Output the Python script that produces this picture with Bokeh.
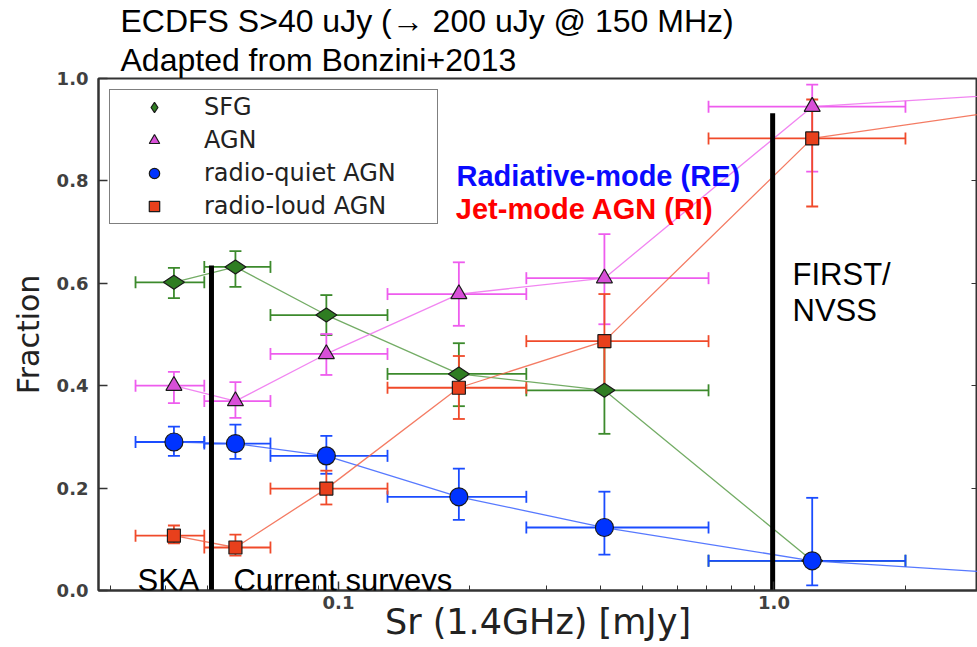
import math
from bokeh.plotting import figure
from bokeh.models import (ColumnDataSource, Whisker, TeeHead, Label, Legend, LegendItem,
                          LinearAxis, FixedTicker, PrintfTickFormatter,
                          CustomJSTickFormatter, Title)
from bokeh.embed import file_html
from bokeh.resources import INLINE

# ---------------- data ----------------
flux_mid = [0.0419, 0.0580, 0.0938, 0.189, 0.408, 1.224]
flux_lo = [0.0342, 0.0492, 0.0698, 0.1296, 0.270, 0.7075]
flux_hi = [0.0492, 0.0698, 0.1296, 0.270, 0.7075, 2.004]
flux_tail = 3.5

sfg = [0.602, 0.632, 0.538, 0.423, 0.391, 0.058]
sfg_lo = [0.571, 0.593, 0.499, 0.360, 0.306, 0.050]
sfg_hi = [0.630, 0.663, 0.577, 0.483, 0.475, 0.066]

agn = [0.400, 0.370, 0.462, 0.579, 0.610, 0.945]
agn_lo = [0.366, 0.337, 0.421, 0.517, 0.520, 0.818]
agn_hi = [0.427, 0.407, 0.501, 0.641, 0.696, 0.988]
agn_tail = 0.969

rq = [0.290, 0.287, 0.263, 0.183, 0.123, 0.058]
rq_lo = [0.263, 0.257, 0.228, 0.138, 0.070, 0.010]
rq_hi = [0.320, 0.324, 0.302, 0.238, 0.193, 0.181]
rq_tail = 0.033

rl = [0.107, 0.084, 0.199, 0.396, 0.487, 0.883]
rl_lo = [0.092, 0.068, 0.168, 0.335, 0.396, 0.750]
rl_hi = [0.127, 0.109, 0.234, 0.458, 0.579, 0.959]
rl_tail = 0.939

series_names = ["SFG", "AGN", "radio-quiet AGN", "radio-loud AGN"]

divider_x = [0.0511, 0.993]
divider_top = [0.635, 0.932]

y_ticks = [0.0, 0.2, 0.4, 0.6, 0.8, 1.0]
x_ticks = [0.1, 1.0]
x_minor = [0.03, 0.04, 0.05, 0.06, 0.07, 0.08, 0.09,
           0.2, 0.3, 0.4, 0.5, 0.6, 0.7, 0.8, 0.9, 2.0, 3.0]

title_lines = ["ECDFS S>40 uJy (\u2192 200 uJy @ 150 MHz)", "Adapted from Bonzini+2013"]

# ---------------- figure ----------------
p = figure(width=977, height=647, x_axis_type="log",
           x_range=(0.02812, 2.933), y_range=(0.0, 1.0),
           output_backend="svg", toolbar_location=None,
           min_border_left=98, min_border_right=0,
           min_border_top=77, min_border_bottom=57)
p.xgrid.visible = False
p.ygrid.visible = False
p.background_fill_color = "white"
p.border_fill_color = "white"

tick_font = "DejaVu Sans"
arial = "Liberation Sans"
tick_col = "#404040"
spine_col = "#333333"

p.outline_line_color = spine_col
p.outline_line_width = 2
p.outline_line_alpha = 1.0

xa = p.xaxis[0]
xa.ticker = FixedTicker(ticks=x_ticks, minor_ticks=x_minor)
xa.formatter = PrintfTickFormatter(format="%.1f")
xa.major_tick_in = 9
xa.major_tick_out = 0
xa.minor_tick_in = 5
xa.minor_tick_out = 0
xa.axis_line_width = 2
xa.axis_line_color = spine_col
xa.major_tick_line_color = spine_col
xa.minor_tick_line_color = spine_col
xa.major_tick_line_width = 1.5
xa.major_label_text_font = tick_font
xa.major_label_text_font_size = "18px"
xa.major_label_text_font_style = "bold"
xa.major_label_text_color = tick_col
xa.major_label_standoff = 5
xa.axis_label = "Sr (1.4GHz) [mJy]"
xa.axis_label_text_font = tick_font
xa.axis_label_text_font_size = "35px"
xa.axis_label_text_font_style = "normal"
xa.axis_label_text_color = "#222222"
xa.axis_label_standoff = -10

ya = p.yaxis[0]
ya.ticker = FixedTicker(ticks=y_ticks)
ya.formatter = PrintfTickFormatter(format="%.1f")
ya.major_tick_in = 9
ya.major_tick_out = 0
ya.minor_tick_in = 0
ya.minor_tick_out = 0
ya.axis_line_width = 2
ya.axis_line_color = spine_col
ya.major_tick_line_color = spine_col
ya.major_tick_line_width = 1.5
ya.major_label_text_font = tick_font
ya.major_label_text_font_size = "18px"
ya.major_label_text_font_style = "bold"
ya.major_label_text_color = tick_col
ya.major_label_standoff = 10
ya.axis_label = "Fraction"
ya.axis_label_text_font = tick_font
ya.axis_label_text_font_size = "30px"
ya.axis_label_text_font_style = "normal"
ya.axis_label_text_color = "#222222"
ya.axis_label_standoff = 8

right = LinearAxis(ticker=FixedTicker(ticks=y_ticks),
                   formatter=CustomJSTickFormatter(code="return '';"),
                   major_label_text_font_size="1px",
                   major_tick_in=6, major_tick_out=0, minor_tick_in=0, minor_tick_out=0,
                   major_label_standoff=0,
                   axis_line_color=None, major_tick_line_color=spine_col)
p.add_layout(right, "right")

for line, so in zip(reversed(title_lines), [2, 0]):
    p.add_layout(Title(text=line, align="left", offset=22, standoff=so,
                       text_font=arial, text_font_size="32px", text_font_style="normal",
                       text_color="black"), "above")

# ---------------- series ----------------
styles = [
    # values, lo, hi, tail, err colour, line colour, marker, size, fill, angle
    (sfg, sfg_lo, sfg_hi, None, "#3c8a2c", "#5a9e4a", "diamond", 21, "#2f7d22", math.pi / 2),
    (agn, agn_lo, agn_hi, agn_tail, "#ee5cee", "#ee70ee", "triangle", 16, "#d84fd8", 0.0),
    (rq, rq_lo, rq_hi, rq_tail, "#1a4cff", "#3a62ff", "circle", 18, "#0033ff", 0.0),
    (rl, rl_lo, rl_hi, rl_tail, "#f04a2a", "#f26448", "square", 13, "#e8401c", 0.0),
]

sources = []
for vals, lo, hi, tail, ecol, lcol, mk, sz, fill, ang in styles:
    src = ColumnDataSource(dict(x=flux_mid, y=vals, lo=lo, hi=hi, xlo=flux_lo, xhi=flux_hi))
    sources.append(src)
    p.add_layout(Whisker(source=src, base="x", lower="lo", upper="hi", dimension="height",
                         line_color=ecol, line_width=1.8,
                         upper_head=TeeHead(size=12, line_color=ecol, line_width=1.8),
                         lower_head=TeeHead(size=12, line_color=ecol, line_width=1.8)))
    p.add_layout(Whisker(source=src, base="y", lower="xlo", upper="xhi", dimension="width",
                         line_color=ecol, line_width=1.8,
                         upper_head=TeeHead(size=12, line_color=ecol, line_width=1.8),
                         lower_head=TeeHead(size=12, line_color=ecol, line_width=1.8)))

for (vals, lo, hi, tail, ecol, lcol, mk, sz, fill, ang) in styles:
    xs = list(flux_mid) + ([flux_tail] if tail is not None else [])
    ys = list(vals) + ([tail] if tail is not None else [])
    p.line(xs, ys, line_color=lcol, line_width=1.3, line_alpha=0.85)

marker_renderers = []
for (vals, lo, hi, tail, ecol, lcol, mk, sz, fill, ang), src in zip(styles, sources):
    r = p.scatter("x", "y", source=src, marker=mk, size=sz, fill_color=fill,
                  line_color="#1a1a1a", line_width=1.2, angle=ang)
    marker_renderers.append(r)

# divider lines
p.segment(x0=divider_x, y0=[0.0, 0.0], x1=divider_x, y1=divider_top,
          line_color="black", line_width=5)

# ---------------- legend ----------------
legend = Legend(items=[LegendItem(label=n, renderers=[r]) for n, r in zip(series_names, marker_renderers)],
                location="top_left", margin=11, padding=3, spacing=5,
                glyph_height=26, glyph_width=82, label_height=26, label_width=230,
                label_standoff=9, label_text_font=tick_font, label_text_font_size="24px",
                label_text_color="#222222", border_line_color="black", border_line_width=1.8,
                background_fill_color="white", background_fill_alpha=1.0)
p.add_layout(legend)

# ---------------- text annotations ----------------
def add_text(x, y, txt, size, color="black", style="normal", align="left"):
    p.add_layout(Label(x=x, y=y, text=txt, text_font=arial, text_font_size=size,
                       text_color=color, text_font_style=style, text_align=align,
                       text_baseline="alphabetic"))

add_text(0.03455, 0.0195, "SKA", "31px")
add_text(0.0574, 0.0195, "Current surveys", "31px")
add_text(1.103, 0.618, "FIRST/", "31px")
add_text(1.103, 0.546, "NVSS", "31px")
add_text(0.1867, 0.809, "Radiative-mode (RE)", "29px", color="#0a0aff", style="bold")
add_text(0.1860, 0.745, "Jet-mode AGN (RI)", "29px", color="#ff0000", style="bold")

open("out.html", "w").write(file_html(p, INLINE))
